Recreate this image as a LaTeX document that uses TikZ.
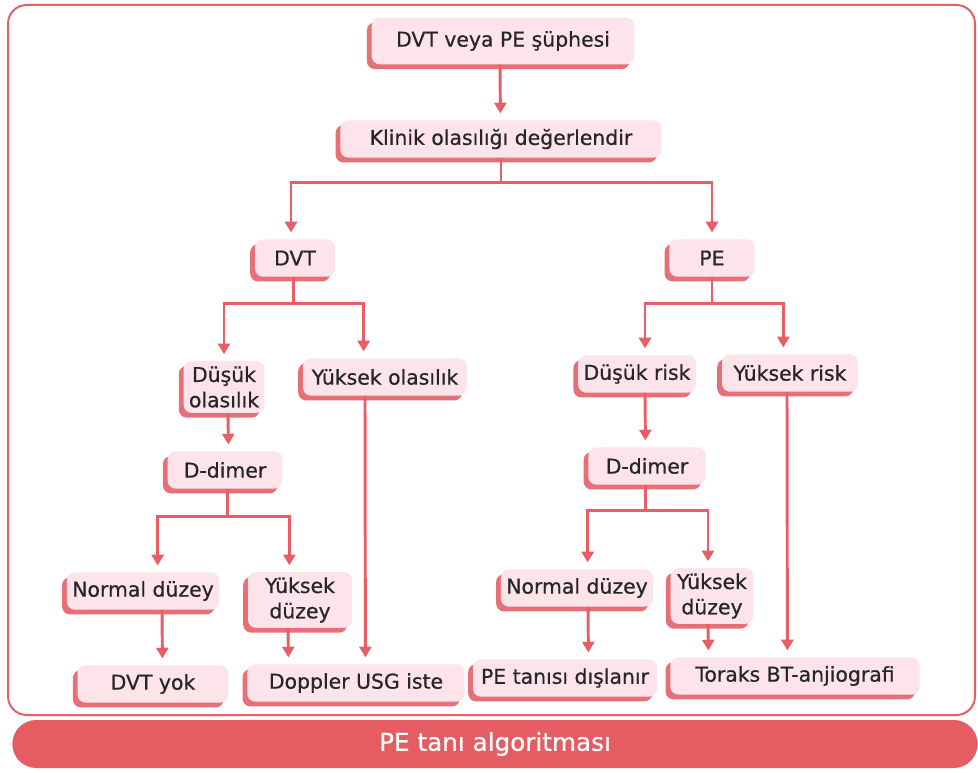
\documentclass[tikz,border=0pt]{standalone}
\usepackage{fontspec}
\setmainfont[FakeBold=0.6]{DejaVu Sans}
\usetikzlibrary{arrows.meta,shadows}
\definecolor{flowred}{HTML}{E85D66}
\definecolor{boxpink}{HTML}{FCE4EA}
\definecolor{boxshade}{HTML}{E76F78}
\definecolor{bannerred}{HTML}{E65C63}
\definecolor{textgray}{HTML}{262626}
\begin{document}
\begin{tikzpicture}[x=0.75pt, y=-0.75pt, >={Triangle[length=8pt,width=9pt]},
  stepbox/.style={fill=boxpink, rounded corners=6pt, align=center, text=textgray,
    inner xsep=4pt, inner ysep=4pt, minimum height=28pt,
    font=\fontsize{15.3}{19}\selectfont,
    general shadow={fill=boxshade, shadow xshift=-3.6pt, shadow yshift=-3.6pt}},
  flow/.style={->, draw=flowred, line width=2.2pt}]
\useasboundingbox (0,0) rectangle (978,773);
\draw[flowred, line width=1.5pt, rounded corners=14pt] (8,5) rectangle (975,715);
\node[fill=bannerred, rounded corners=18pt, minimum width=724pt, minimum height=36pt, text=white, font=\fontsize{18.5}{22}\selectfont] (title) at (495,744) {PE tanı algoritması};
\node[stepbox, minimum width=197pt, minimum height=35pt] (suspect) at (503,41) {DVT veya PE şüphesi};
\node[stepbox, minimum width=241pt] (klinik) at (501,139) {Klinik olasılığı değerlendir};
\node[stepbox, minimum width=60pt] (dvt) at (295,258) {DVT};
\node[stepbox, minimum width=64pt] (pe) at (712,258) {PE};
\node[stepbox, minimum width=58pt] (dusukol) at (224,387) {Düşük\\olasılık};
\node[stepbox, minimum width=123pt] (yuksekol) at (385,377) {Yüksek olasılık};
\node[stepbox, minimum width=86pt] (ddimerL) at (225,470) {D-dimer};
\node[stepbox, minimum width=88pt] (dusukrisk) at (637,374) {Düşük risk};
\node[stepbox, minimum width=102pt] (yuksekrisk) at (790,373) {Yüksek risk};
\node[stepbox, minimum width=88pt] (ddimerR) at (647,466) {D-dimer};
\node[stepbox, minimum width=113pt] (normalL) at (143,591) {Normal düzey};
\node[stepbox, minimum width=78pt] (yuksekdL) at (300,600) {Yüksek\\düzey};
\node[stepbox, minimum width=113pt] (dvtyok) at (153,684) {DVT yok};
\node[stepbox, minimum width=163pt] (doppler) at (356,683) {Doppler USG iste};
\node[stepbox, minimum width=112pt] (normalR) at (577,588) {Normal düzey};
\node[stepbox, minimum width=62pt] (yuksekdR) at (712,596) {Yüksek\\düzey};
\node[stepbox, minimum width=138pt] (pedislanir) at (565,678) {PE tanısı dışlanır};
\node[stepbox, minimum width=187pt] (toraks) at (795,676) {Toraks BT-anjiografi};
% top of the tree
\draw[flow] ([xshift=-2.25pt]suspect.south) -- ([xshift=-0.45pt,yshift=5pt]klinik.north);
\draw[flow] (klinik.south) -- ++(0,25) -| ([xshift=-3pt,yshift=5pt]dvt.north);
\draw[flow] (klinik.south) -- ++(0,25) -| ([yshift=5pt]pe.north);
% DVT side
\draw[flow] ([xshift=-1pt]dvt.south) -- ++(0,27) -| ([yshift=5pt]dusukol.north);
\draw[flow] ([xshift=-1pt]dvt.south) -- ++(0,27) -| ([xshift=-16pt,yshift=5pt]yuksekol.north);
\draw[flow] ([xshift=3pt]dusukol.south) -- ([xshift=2.55pt,yshift=5pt]ddimerL.north);
\draw[flow] ([xshift=2pt]ddimerL.south) -- ++(0,28) -| ([xshift=11pt,yshift=5pt]normalL.north);
\draw[flow] ([xshift=2pt]ddimerL.south) -- ++(0,28) -| ([xshift=-8pt,yshift=5pt]yuksekdL.north);
\draw[flow] ([xshift=14.25pt]normalL.south) -- ([xshift=7.05pt,yshift=5pt]dvtyok.north);
\draw[flow] ([xshift=-9pt]yuksekdL.south) -- ([xshift=-50.7pt,yshift=5pt]doppler.north);
\draw[flow] ([xshift=-15pt]yuksekol.south) -- ([xshift=7.05pt,yshift=5pt]doppler.north);
% PE side
\draw[flow] (pe.south) -- ++(0,27) -| ([xshift=6pt,yshift=5pt]dusukrisk.north);
\draw[flow] (pe.south) -- ++(0,27) -| ([xshift=-5pt,yshift=5pt]yuksekrisk.north);
\draw[flow] ([xshift=6pt]dusukrisk.south) -- ([xshift=-1.2pt,yshift=5pt]ddimerR.north);
\draw[flow] ([xshift=-1pt]ddimerR.south) -- ++(0,26) -| ([xshift=8pt,yshift=5pt]normalR.north);
\draw[flow] ([xshift=-1pt]ddimerR.south) -- ++(0,26) -| ([xshift=-3pt,yshift=5pt]yuksekdR.north);
\draw[flow] ([xshift=8.25pt]normalR.south) -- ([xshift=17.55pt,yshift=5pt]pedislanir.north);
\draw[flow] ([xshift=-3pt]yuksekdR.south) -- ([xshift=-64.95pt,yshift=5pt]toraks.north);
\draw[flow] ([xshift=-2.25pt]yuksekrisk.south) -- ([xshift=-5.7pt,yshift=5pt]toraks.north);
\end{tikzpicture}
\end{document}
